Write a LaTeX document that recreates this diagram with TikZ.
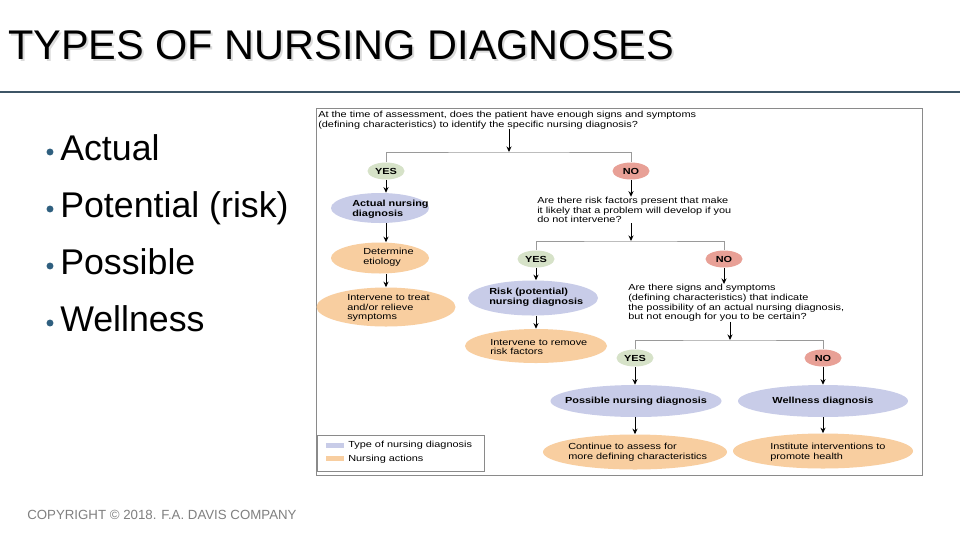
\documentclass[tikz,border=0pt]{standalone}
\usepackage{fontspec}
\setmainfont{Liberation Sans}
\newfontfamily\figfont[FakeStretch=1.24]{Liberation Sans}
\usetikzlibrary{shapes.geometric,arrows.meta}
\definecolor{yesc}{HTML}{D6E2C8}
\definecolor{noc}{HTML}{E8A096}
\definecolor{diagc}{HTML}{C8CCE8}
\definecolor{actc}{HTML}{F8CEA0}
\definecolor{bulletc}{HTML}{2F5F7F}
\definecolor{rulec}{HTML}{3D5566}
\definecolor{framec}{HTML}{8A8A8A}
\definecolor{branchc}{HTML}{9A9A9A}
\begin{document}
\begin{tikzpicture}[x=0.75pt,y=-0.75pt,
  oval/.style={ellipse, draw=none, inner sep=0pt},
  yesnode/.style={oval, fill=yesc, minimum width=27.75pt, minimum height=12.75pt, font=\figfont\bfseries\fontsize{6.6}{7}\selectfont},
  nonode/.style={oval, fill=noc, minimum width=27.75pt, minimum height=12.75pt, font=\figfont\bfseries\fontsize{6.6}{7}\selectfont},
  diag/.style={oval, fill=diagc},
  act/.style={oval, fill=actc},
  figtxt/.style={font=\figfont\fontsize{6.6}{7.3}\selectfont, align=left, inner sep=0pt, anchor=west},
  figbold/.style={font=\figfont\bfseries\fontsize{6.6}{7.3}\selectfont, align=left, inner sep=0pt, anchor=west},
  arr/.style={draw=black, line width=0.7pt, -{Stealth[length=4.2pt,width=3.8pt]}},
  branch/.style={draw=branchc, line width=0.7pt},
  bullettxt/.style={anchor=base west, inner sep=0pt, font=\fontsize{26.8}{30}\selectfont},
  bulletdot/.style={circle, fill=bulletc, minimum size=5.2pt, inner sep=0pt},
  titletxt/.style={anchor=base west, inner sep=0pt, font=\fontsize{31.1}{36}\selectfont}
]
\useasboundingbox (0,0) rectangle (960,540);
\fill[white] (0,0) rectangle (960,540);

% title
\node[titletxt, text=black!14] (titleshadow) at (10,61) {TYPES OF NURSING DIAGNOSES};
\node[titletxt] (title) at (8,59) {TYPES OF NURSING DIAGNOSES};
\draw[rulec, line width=0.8pt] (0,92) -- (960,92);

% bullets
\node[bulletdot] (d1) at (50,152) {};
\node[bullettxt] (b1) at (60,160) {Actual};
\node[bulletdot] (d2) at (50,209) {};
\node[bullettxt] (b2) at (60,217) {Potential (risk)};
\node[bulletdot] (d3) at (50,266) {};
\node[bullettxt] (b3) at (60,274) {Possible};
\node[bulletdot] (d4) at (50,323) {};
\node[bullettxt] (b4) at (60,331.5) {Wellness};

% copyright
\node[anchor=base west, inner sep=0pt, text=black!50, font=\fontsize{9.95}{11}\selectfont] (copy) at (27,519) {COPYRIGHT © 2018. F.A. DAVIS COMPANY};

% figure frame
\draw[framec, line width=0.75pt] (316,108) rectangle (922,475);

% questions
\node[figtxt] (q1) at (318,120) {At the time of assessment, does the patient have enough signs and symptoms\\(defining characteristics) to identify the specific nursing diagnosis?};
\node[figtxt] (q2) at (537,210) {Are there risk factors present that make\\it likely that a problem will develop if you\\do not intervene?};
\node[figtxt] (q3) at (628,303) {Are there signs and symptoms\\(defining characteristics) that indicate\\the possibility of an actual nursing diagnosis,\\but not enough for you to be certain?};

% yes / no
\node[yesnode] (yes1) at (386,171) {YES};
\node[nonode] (no1) at (631,171) {NO};
\node[yesnode] (yes2) at (536,259) {YES};
\node[nonode] (no2) at (724,259) {NO};
\node[yesnode] (yes3) at (635,358) {YES};
\node[nonode] (no3) at (823,358) {NO};

% ovals
\node[diag, minimum width=73.5pt, minimum height=22.5pt] (actual) at (380,208) {};
\node[act, minimum width=73.5pt, minimum height=23.25pt] (determine) at (380,258) {};
\node[act, minimum width=104.25pt, minimum height=29.25pt] (treat) at (386,307) {};
\node[diag, minimum width=97.5pt, minimum height=26.25pt] (risk) at (533,298) {};
\node[act, minimum width=106.5pt, minimum height=25.5pt] (remove) at (536,346) {};
\node[diag, minimum width=128.25pt, minimum height=24pt] (possible) at (636,401) {};
\node[diag, minimum width=127.5pt, minimum height=24pt] (wellness) at (823,401) {};
\node[act, minimum width=138pt, minimum height=26.25pt] (continue) at (635,452) {};
\node[act, minimum width=135pt, minimum height=26.25pt] (institute) at (823,451) {};

% oval texts
\node[figbold] (actualtxt) at (352,209) {Actual nursing\\diagnosis};
\node[figtxt] (determinetxt) at (363,257) {Determine\\etiology};
\node[figtxt] (treattxt) at (347,308) {Intervene to treat\\and/or relieve\\symptoms};
\node[figbold] (risktxt) at (489,297) {Risk (potential)\\nursing diagnosis};
\node[figtxt] (removetxt) at (490,347) {Intervene to remove\\risk factors};
\node[figbold, anchor=center] (possibletxt) at (possible) {Possible nursing diagnosis};
\node[figbold, anchor=center] (wellnesstxt) at (wellness) {Wellness diagnosis};
\node[figtxt] (continuetxt) at (568,452) {Continue to assess for\\more defining characteristics};
\node[figtxt] (institutetxt) at (770,452) {Institute interventions to\\promote health};

% connectors
\coordinate (j1) at (509,152);
\draw[arr] (q1.south -| j1) -- (j1);
\draw[branch] (yes1.north) |- (j1) -| (no1.north);
\draw[arr] (yes1.south) -- (yes1.south |- actual.north);
\draw[arr] (actual.south -| yes1) -- (determine.north -| yes1);
\draw[arr] (determine.south -| yes1) -- (treat.north);
\draw[arr] (no1.south) -- (no1.south |- q2.north);

\coordinate (j2) at (631,241);
\draw[arr] (q2.south -| j2) -- (j2);
\draw[branch] (yes2.north) |- (j2) -| (no2.north);
\draw[arr] (yes2.south) -- (yes2.south |- risk.north);
\draw[arr] (risk.south -| yes2) -- (remove.north -| yes2);
\draw[arr] (no2.south) -- (no2.south |- q3.north);

\coordinate (j3) at (730,340);
\draw[arr] (q3.south -| j3) -- (j3);
\draw[branch] (yes3.north) |- (j3) -| (no3.north);
\draw[arr] (yes3.south) -- (yes3.south |- possible.north);
\draw[arr] (no3.south) -- (wellness.north);
\draw[arr] (possible.south -| yes3) -- (continue.north -| yes3);
\draw[arr] (wellness.south) -- (institute.north);

% legend
\draw[framec, line width=0.6pt] (317,435) rectangle (484,471);
\fill[diagc] (326,443) rectangle (344,448);
\fill[actc] (326,456) rectangle (344,461);
\node[figtxt] (leg1) at (348,445.5) {Type of nursing diagnosis};
\node[figtxt] (leg2) at (348,459) {Nursing actions};
\end{tikzpicture}
\end{document}
